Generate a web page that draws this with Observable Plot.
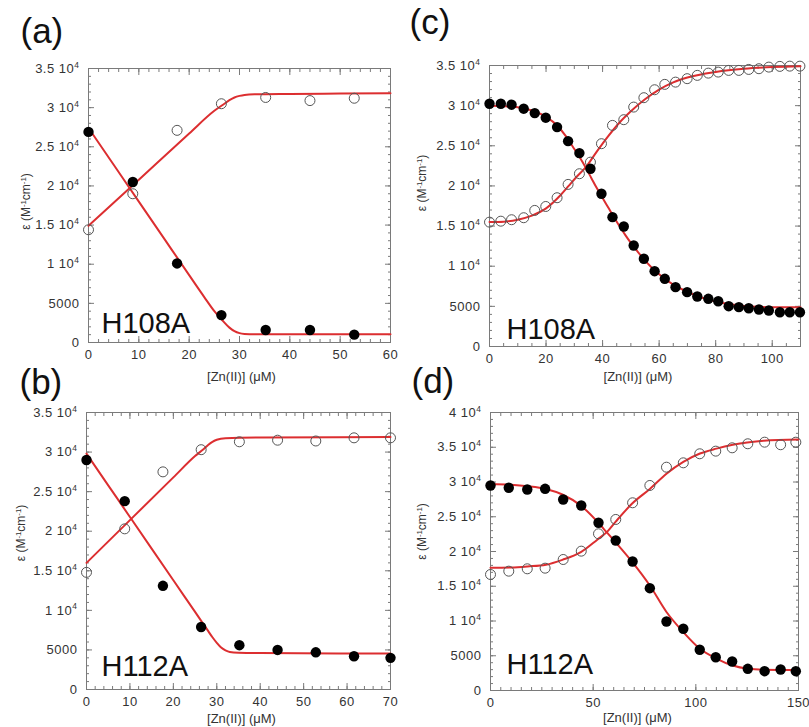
<!DOCTYPE html>
<html>
<head>
<meta charset="utf-8">
<script src="https://cdn.jsdelivr.net/npm/d3@7"></script>
<script src="https://cdn.jsdelivr.net/npm/@observablehq/plot@0.6"></script>
<style>
  html, body { margin: 0; padding: 0; background: #fff; }
  #wrap { position: relative; width: 809px; height: 727px; overflow: hidden; background: #fff;
          font-family: "Liberation Sans", Arial, Helvetica, sans-serif; }
  #wrap svg { position: absolute; overflow: visible; }
  g[aria-label="x-axis tick label"], g[aria-label="y-axis tick label"], g[aria-label="xtitle"] { letter-spacing: 0.5px; }
</style>
</head>
<body>
<div id="wrap"></div>
<script>
// ---------------- DATA ----------------
// Panel (a) H108A
const aZn      = [0, 8.8, 17.6, 26.4, 35.2, 44, 52.8];
const aOpen    = [14400, 19000, 27100, 30500, 31300, 30900, 31200];
const aFilled  = [26900, 20500, 10100, 3500, 1600, 1600, 1000];
const aFitOpenZn   = [0, 10, 20, 25, 27, 28, 29, 30, 31, 33, 40, 50, 60];
const aFitOpen     = [14900, 20800, 26700, 29600, 30500, 30950, 31300, 31500, 31620, 31700, 31750, 31800, 31850];
const aFitFilledZn = [0, 5, 10, 15, 20, 23, 25, 26.5, 28, 29, 30, 31, 33, 40, 60];
const aFitFilled   = [27400, 22700, 18000, 13300, 8600, 5800, 4000, 2900, 1900, 1450, 1200, 1100, 1050, 1050, 1050];

// Panel (b) H112A
const bZn      = [0, 8.8, 17.6, 26.4, 35.2, 44, 52.8, 61.6, 70];
const bOpen    = [14800, 20300, 27500, 30300, 31300, 31500, 31400, 31800, 31800];
const bFilled  = [29000, 23800, 13100, 7900, 5600, 5000, 4700, 4200, 4000];
const bFitOpenZn   = [0, 10, 20, 25, 27, 28, 29, 30, 32, 40, 70];
const bFitOpen     = [16000, 21400, 26800, 29500, 30400, 30900, 31300, 31550, 31750, 31850, 31900];
const bFitFilledZn = [0, 5, 10, 15, 20, 25, 27, 28, 29, 30, 31, 32, 33, 35, 40, 70];
const bFitFilled   = [29800, 25800, 21800, 17800, 13800, 9800, 8200, 7400, 6600, 5900, 5300, 4950, 4750, 4650, 4600, 4550];

// Panel (c) H108A
const cZn = [0, 4.0, 7.8, 12.1, 16.0, 19.9, 23.9, 27.8, 31.8, 35.7, 39.6, 43.5, 47.5, 51.0, 54.6,
             58.4, 62.0, 65.8, 69.9, 73.5, 77.4, 80.9, 84.6, 88.2, 91.7, 95.3, 98.8, 102.7, 106.2, 109.8];
const cOpen = [15490, 15610, 15790, 16040, 16950, 17440, 18530, 20190, 21520, 22960, 25260, 27540, 28250, 29820, 30990,
               31980, 32650, 32930, 33360, 33770, 34050, 34180, 34390, 34390, 34510, 34600, 34800, 34890, 34920, 34920];
const cFilled = [30240, 30240, 30120, 29620, 29070, 28500, 27330, 25580, 24090, 22140, 19030, 16110, 14950, 12580, 10930,
                 9380, 8430, 7390, 6770, 6230, 5940, 5640, 5020, 4900, 4770, 4610, 4490, 4270, 4270, 4270];
const cFitOpenZn   = [0, 5, 10, 15, 20, 25, 28, 31, 34, 38, 42, 46, 50, 55, 60, 65, 70, 80, 90, 100, 110];
const cFitOpen     = [15500, 15550, 15800, 16300, 17200, 18800, 20000, 21200, 22300, 24300, 26200, 27900, 29300, 30800, 32000, 32900, 33500, 34200, 34600, 34800, 34900];
const cFitFilledZn = [0, 5, 10, 15, 20, 24, 27, 30, 32, 34, 36, 38, 40, 42, 44, 46, 48, 50, 52, 55, 60, 65, 70, 75, 80, 85, 90, 95, 100, 110];
const cFitFilled   = [30000, 29950, 29800, 29400, 28600, 27500, 26200, 24600, 23500, 22300, 21000, 19700, 18500, 17300, 16100, 15000, 13900, 12900, 12000, 10700, 9000, 7700, 6800, 6100, 5600, 5250, 5050, 4950, 4900, 4880];

// Panel (d) H112A
const dZn = [0, 8.9, 17.9, 26.6, 35.4, 44.2, 52.6, 61.0, 69.2, 77.6, 85.7, 93.9, 101.9, 109.7, 117.7, 125.3, 133.5, 141.3, 148.7];
const dOpen = [16690, 17170, 17510, 17600, 18850, 20050, 22550, 24610, 27010, 29500, 32130, 32760, 34060, 34440, 34920, 35500, 35730, 35360, 35730];
const dFilled = [29500, 29170, 28920, 29020, 27480, 26620, 24130, 21580, 18560, 14720, 9930, 8880, 5860, 4790, 4170, 3120, 2780, 3020, 2780];
const dFitOpenZn   = [0, 10, 18, 27, 35, 44, 52, 57, 61, 69, 77.6, 85.7, 93.9, 102, 110, 118, 125, 133, 150];
const dFitOpen     = [17650, 17700, 17850, 18100, 18800, 19900, 21700, 22900, 24300, 26900, 29000, 31200, 32900, 34100, 34800, 35350, 35700, 35950, 36100];
const dFitFilledZn = [0, 10, 18, 27, 35, 44, 52, 55, 61, 69, 77.6, 85.7, 93.9, 102, 110, 118, 125, 133, 150];
const dFitFilled   = [29700, 29600, 29400, 29000, 28200, 26600, 24300, 23300, 21300, 18500, 15100, 11300, 8400, 6000, 4600, 3600, 3150, 3000, 2950];

// Tick values and labels
const yTicks35 = [0, 5000, 10000, 15000, 20000, 25000, 30000, 35000];
const yTicks40 = [0, 5000, 10000, 15000, 20000, 25000, 30000, 35000, 40000];
const yTickLabels40 = ["0", "5000", "1 10^{4}", "1.5 10^{4}", "2 10^{4}", "2.5 10^{4}", "3 10^{4}", "3.5 10^{4}", "4 10^{4}"];
const xTicksA = [0, 10, 20, 30, 40, 50, 60];
const xTicksB = [0, 10, 20, 30, 40, 50, 60, 70];
const xTicksC = [0, 20, 40, 60, 80, 100];
const xTicksD = [0, 50, 100, 150];
const panelTags  = ["(a)", "(b)", "(c)", "(d)"];
const panelNames = ["H108A", "H112A", "H108A", "H112A"];
const xTitle = "[Zn(II)] (\u03BCM)";
const yTitle = "\u03B5 (M^{-1}cm^{-1})";

// ---------------- DRAWING ----------------
const RED = "#dc2e30";
const FRAME = "#7a7a7a";
const TXT = "#333";
const yLabelOf = new Map(yTicks40.map((v, i) => [v, yTickLabels40[i]]));
const rng = (a, b, s) => d3.range(a, b + s / 2, s);
const toRows = (xs, ys) => xs.map((x, i) => ({x, y: ys[i]}));

function panel(cfg) {
  const {left, top, width, height, m, xDomain, yDomain, xTicks, xMinorStep, yTicks, tag, name, tagD, nameD, yT, xT} = cfg;
  const xMinor = rng(xDomain[0], xDomain[1], xMinorStep);
  const yMinor = rng(yDomain[0], yDomain[1], 1000);
  const tickOpts = {fill: "none", stroke: FRAME, label: null, strokeWidth: 1};
  const svg = Plot.plot({
    width, height,
    marginLeft: m[0], marginRight: m[1], marginTop: m[2], marginBottom: m[3],
    x: {domain: xDomain},
    y: {domain: yDomain},
    style: {background: "transparent", overflow: "visible", fontFamily: "'Liberation Sans', Arial, sans-serif"},
    marks: [
      // minor + major inward ticks on all four sides
      Plot.axisX(xMinor, {...tickOpts, anchor: "bottom", tickSize: 3, dy: -3}),
      Plot.axisX(xMinor, {...tickOpts, anchor: "top", tickSize: 3, dy: 3}),
      Plot.axisX(xTicks, {...tickOpts, anchor: "bottom", tickSize: 6, dy: -6}),
      Plot.axisX(xTicks, {...tickOpts, anchor: "top", tickSize: 6, dy: 6}),
      Plot.axisY(yMinor, {...tickOpts, anchor: "left", tickSize: 3, dx: 3}),
      Plot.axisY(yMinor, {...tickOpts, anchor: "right", tickSize: 3, dx: -3}),
      Plot.axisY(yTicks, {...tickOpts, anchor: "left", tickSize: 6, dx: 6}),
      Plot.axisY(yTicks, {...tickOpts, anchor: "right", tickSize: 6, dx: -6}),
      // tick labels
      Plot.axisX(xTicks, {anchor: "bottom", tickSize: 0, tickPadding: 7, label: null, fontSize: 13, fill: TXT, tickFormat: d => String(d)}),
      Plot.axisY(yTicks, {anchor: "left", tickSize: 0, tickPadding: 9, label: null, fontSize: 13, fill: TXT, tickFormat: d => yLabelOf.get(d)}),
      Plot.frame({stroke: FRAME, strokeWidth: 1}),
      // fitted curves
      Plot.line(toRows(cfg.fitOpenZn, cfg.fitOpen), {x: "x", y: "y", stroke: RED, strokeWidth: 2, curve: "monotone-x"}),
      Plot.line(toRows(cfg.fitFilledZn, cfg.fitFilled), {x: "x", y: "y", stroke: RED, strokeWidth: 2, curve: "monotone-x"}),
      // data points
      Plot.dot(toRows(cfg.zn, cfg.open), {x: "x", y: "y", r: 5, stroke: "#555", strokeWidth: 1, fill: "none"}),
      Plot.dot(toRows(cfg.zn, cfg.filled), {x: "x", y: "y", r: 5.2, fill: "#000", stroke: "none"}),
      // texts
      Plot.text([name], {text: d => d, frameAnchor: "bottom-left", textAnchor: "start", lineAnchor: "bottom",
        dx: nameD[0], dy: nameD[1], fontSize: 29, fill: "#111"}),
      Plot.text([tag], {text: d => d, frameAnchor: "top-left", textAnchor: "start", lineAnchor: "bottom",
        dx: tagD[0], dy: tagD[1], fontSize: 35, fill: "#111"}),
      Plot.text([yTitle], {text: d => d, frameAnchor: "left", rotate: -90, textAnchor: "middle", lineAnchor: "middle",
        dx: yT[0], dy: yT[1], fontSize: 12, fill: TXT}),
      Plot.text([xTitle], {text: d => d, frameAnchor: "bottom", textAnchor: "middle", lineAnchor: "bottom",
        dx: xT[0], dy: xT[1], fontSize: 13, fill: TXT, ariaLabel: "xtitle"})
    ]
  });
  svg.style.left = left + "px";
  svg.style.top = top + "px";
  applySup(svg);
  document.getElementById("wrap").appendChild(svg);
}

function applySup(svg) {
  const ns = "http://www.w3.org/2000/svg";
  svg.querySelectorAll("text").forEach(t => {
    const nodes = t.querySelector("tspan") ? Array.from(t.querySelectorAll("tspan")) : [t];
    nodes.forEach(node => {
      const s = node.textContent;
      if (!s.includes("^{")) return;
      node.textContent = "";
      const parts = s.split(/\^\{([^}]*)\}/);
      let raised = false;
      parts.forEach((p, i) => {
        if (p === "") return;
        const ts = document.createElementNS(ns, "tspan");
        if (i % 2 === 1) {
          ts.setAttribute("font-size", "65%");
          ts.setAttribute("dy", "-0.6em");
          raised = true;
        } else if (raised) {
          ts.setAttribute("dy", "0.39em");
          raised = false;
        }
        ts.textContent = p;
        node.appendChild(ts);
      });
    });
  });
}

panel({left: 0, top: 0, width: 404, height: 385, m: [88, 14, 68, 43],
  xDomain: [0, 60], yDomain: [0, 35000], xTicks: xTicksA, xMinorStep: 2, yTicks: yTicks35,
  zn: aZn, open: aOpen, filled: aFilled,
  fitOpenZn: aFitOpenZn, fitOpen: aFitOpen, fitFilledZn: aFitFilledZn, fitFilled: aFitFilled,
  tag: panelTags[0], name: panelNames[0], tagD: [-68, -26], nameD: [13, -10], yT: [-62, -4], xT: [2, 38]});

panel({left: 0, top: 360, width: 404, height: 367, m: [86, 14, 52, 38],
  xDomain: [0, 70], yDomain: [0, 35000], xTicks: xTicksB, xMinorStep: 2, yTicks: yTicks35,
  zn: bZn, open: bOpen, filled: bFilled,
  fitOpenZn: bFitOpenZn, fitOpen: bFitOpen, fitFilledZn: bFitFilledZn, fitFilled: bFitFilled,
  tag: panelTags[1], name: panelNames[1], tagD: [-67, -19], nameD: [15, -14], yT: [-65, -18], xT: [3, 33]});

panel({left: 404, top: 0, width: 405, height: 385, m: [85, 9, 65, 39],
  xDomain: [0, 110], yDomain: [0, 35000], xTicks: xTicksC, xMinorStep: 5, yTicks: yTicks35,
  zn: cZn, open: cOpen, filled: cFilled,
  fitOpenZn: cFitOpenZn, fitOpen: cFitOpen, fitFilledZn: cFitFilledZn, fitFilled: cFitFilled,
  tag: panelTags[2], name: panelNames[2], tagD: [-80, -32], nameD: [17, -8], yT: [-67, -23], xT: [-7, 34]});

panel({left: 404, top: 360, width: 405, height: 367, m: [86, 11, 52, 37],
  xDomain: [0, 150], yDomain: [0, 40000], xTicks: xTicksD, xMinorStep: 5, yTicks: yTicks40,
  zn: dZn, open: dOpen, filled: dFilled,
  fitOpenZn: dFitOpenZn, fitOpen: dFitOpen, fitFilledZn: dFitFilledZn, fitFilled: dFitFilled,
  tag: panelTags[3], name: panelNames[3], tagD: [-79, -20], nameD: [16, -17], yT: [-68, -20], xT: [-7, 31]});
</script>
</body>
</html>
